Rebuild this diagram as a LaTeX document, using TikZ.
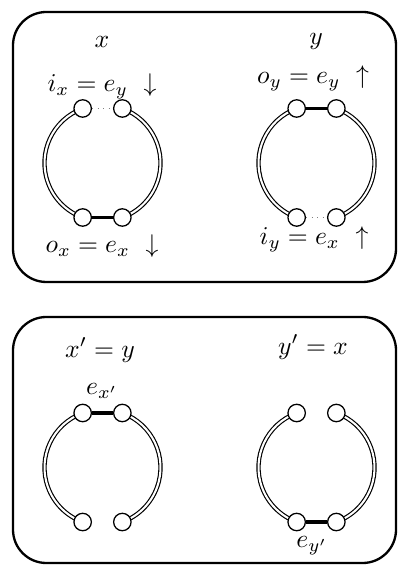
\documentclass[tikz,border=0pt]{standalone}
\usetikzlibrary{calc}
\begin{document}
\begin{tikzpicture}[x=0.39pt,y=0.39pt,
  frame/.style={draw,line width=0.9pt,rounded corners=13pt},
  ringline/.style={draw,line width=0.45pt,double=white,double distance=0.8pt},
  vtx/.style={circle,draw,fill=white,line width=0.5pt,minimum size=6.8pt,inner sep=0pt},
  boldedge/.style={line width=1.4pt},
  dotedge/.style={gray,line width=0.45pt,dash pattern=on 0.45pt off 1.7pt},
  lbl/.style={inner sep=0pt}]
\useasboundingbox (0,0) rectangle (398,-566);
% frames
\draw[frame] (13,-12) rectangle (396,-282);
\draw[frame] (13,-317) rectangle (396,-563);
% ring centres
\coordinate (cA) at (102.5,-163);
\coordinate (cB) at (316.5,-163);
\coordinate (cC) at (102.5,-467.5);
\coordinate (cD) at (316.5,-467.5);
\foreach \c in {A,B,C,D}{
  \coordinate (tl\c) at ($(c\c)+(110:58)$);
  \coordinate (tr\c) at ($(c\c)+(70:58)$);
  \coordinate (bl\c) at ($(c\c)+(250:58)$);
  \coordinate (br\c) at ($(c\c)+(-70:58)$);
  \draw[ringline] (tl\c) arc[start angle=110,end angle=250,radius=58];
  \draw[ringline] (tr\c) arc[start angle=70,end angle=-70,radius=58];
  \node[vtx] (vtl\c) at (tl\c) {};
  \node[vtx] (vtr\c) at (tr\c) {};
  \node[vtx] (vbl\c) at (bl\c) {};
  \node[vtx] (vbr\c) at (br\c) {};
}
% edges
\draw[dotedge] (vtlA) -- (vtrA);
\draw[boldedge] (vblA) -- (vbrA);
\draw[boldedge] (vtlB) -- (vtrB);
\draw[dotedge] (vblB) -- (vbrB);
\draw[boldedge] (vtlC) -- (vtrC);
\draw[boldedge] (vblD) -- (vbrD);
% labels
\node[lbl] (lx) at (102,-42) {$x$};
\node[lbl] (ly) at (316,-41) {$y$};
\node[lbl] (lix) at (102,-86) {$i_x = e_y \ \downarrow$};
\node[lbl] (lox) at (102,-246) {$o_x = e_x \ \downarrow$};
\node[lbl] (loy) at (313,-78) {$o_y = e_y \ \uparrow$};
\node[lbl] (liy) at (314,-239) {$i_y = e_x \ \uparrow$};
\node[lbl] (lxp) at (100,-350) {$x' = y$};
\node[lbl] (lyp) at (313,-347) {$y' = x$};
\node[lbl] (lexp) at (102,-391) {$e_{x'}$};
\node[lbl] (leyp) at (312,-546) {$e_{y'}$};
\end{tikzpicture}
\end{document}
